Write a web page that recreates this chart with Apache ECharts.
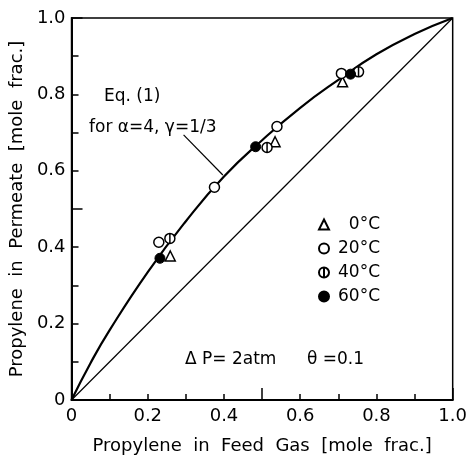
<!DOCTYPE html>
<html lang="en">
<head>
    <meta http-equiv="Content-Type" content="text/html; charset=utf-8"/>
    <title>Propylene permeate</title>
    <script type="text/javascript" src="https://cdn.jsdelivr.net/npm/echarts@6/dist/echarts.min.js"></script>
    <style>
        html, body { margin: 0; padding: 0; background: #fff; }
        #chart { width: 470px; height: 461px; }
    </style>
</head>
<body>
<div id="chart"></div>
<script type="text/javascript">
    // Eq.(1) curve
    var curveX = [0, 0.05, 0.1, 0.2, 0.3, 0.4, 0.5, 0.6, 0.7, 0.8, 0.9, 1.0];
    var curveY = [0, 0.097, 0.183, 0.335, 0.468, 0.585, 0.68, 0.765, 0.838, 0.905, 0.958, 1.0];
    // y = x reference line
    var diagX = [0, 1];
    var diagY = [0, 1];
    // leader line from the label to the curve
    var leaderX = [0.294, 0.397];
    var leaderY = [0.694, 0.589];

    // measured points
    var t0X = [0.259, 0.534, 0.711];
    var t0Y = [0.377, 0.676, 0.833];
    var t20X = [0.229, 0.375, 0.539, 0.708];
    var t20Y = [0.413, 0.557, 0.716, 0.855];
    var t40X = [0.258, 0.513, 0.753];
    var t40Y = [0.423, 0.661, 0.859];
    var t60X = [0.232, 0.483, 0.732];
    var t60Y = [0.371, 0.663, 0.853];

    var legendNames = ['0°C', '20°C', '40°C', '60°C'];

    function pairs(xs, ys) {
        var out = [];
        for (var i = 0; i < xs.length; i++) {
            out.push([xs[i], ys[i]]);
        }
        return out;
    }

    var font = 'DejaVu Sans';
    var circleBar = 'path://M50,2 A48,48 0 1,1 49.9,2 Z M50,2 L50,98';

    var myChart = echarts.init(document.getElementById('chart'));

    function tickLabel(v) {
        return v === 0 ? '0' : v.toFixed(1);
    }

    var option = {
        animation: false,
        backgroundColor: '#fff',
        grid: {
            left: 71, right: 10, top: 18, bottom: 61,
            show: true, borderColor: '#000', borderWidth: 1.5
        },
        legend: {
            orient: 'vertical',
            left: 313, top: 211,
            itemWidth: 10, itemHeight: 10, itemGap: 7,
            data: legendNames,
            formatter: function (name) {
                return '{t|' + name + '}';
            },
            textStyle: {
                fontFamily: font, fontSize: 17, color: '#000',
                rich: { t: { width: 46, align: 'right', fontFamily: font, fontSize: 17, lineHeight: 15 } }
            }
        },
        xAxis: [{
            type: 'value', min: 0, max: 1, interval: 0.2,
            name: 'Propylene  in  Feed  Gas  [mole  frac.]',
            nameLocation: 'middle', nameGap: 37,
            nameTextStyle: { fontFamily: font, fontSize: 18, color: '#000' },
            axisLine: { lineStyle: { color: '#000', width: 2 } },
            axisTick: { inside: true, length: 6, lineStyle: { color: '#000', width: 1.5 } },
            minorTick: { show: true, splitNumber: 2, length: 6, lineStyle: { color: '#000', width: 1.5 } },
            axisLabel: { formatter: tickLabel, fontFamily: font, fontSize: 18, color: '#000', margin: 7 },
            splitLine: { show: false }
        }, {
            type: 'value', min: 0, max: 1, interval: 0.5, position: 'bottom',
            axisLine: { show: false },
            axisTick: { inside: true, length: 12, lineStyle: { color: '#000', width: 1.5 } },
            axisLabel: { show: false },
            splitLine: { show: false }
        }],
        yAxis: [{
            type: 'value', min: 0, max: 1, interval: 0.2,
            name: 'Propylene  in  Permeate  [mole  frac.]',
            nameLocation: 'middle', nameGap: 37,
            nameTextStyle: { fontFamily: font, fontSize: 18, color: '#000' },
            axisLine: { lineStyle: { color: '#000', width: 2 } },
            axisTick: { inside: true, length: 7, lineStyle: { color: '#000', width: 1.5 } },
            minorTick: { show: true, splitNumber: 2, length: 7, lineStyle: { color: '#000', width: 1.5 } },
            axisLabel: { formatter: tickLabel, fontFamily: font, fontSize: 18, color: '#000', margin: 6 },
            splitLine: { show: false }
        }, {
            type: 'value', min: 0, max: 1, interval: 0.5, position: 'left',
            axisLine: { show: false },
            axisTick: { inside: true, length: 11, lineStyle: { color: '#000', width: 1.5 } },
            axisLabel: { show: false },
            splitLine: { show: false }
        }],
        graphic: [
            { type: 'text', left: 104, top: 88, style: { text: 'Eq. (1)', font: '17px ' + font, fill: '#000' } },
            { type: 'text', left: 89, top: 119, style: { text: 'for α=4, γ=1/3', font: '17px ' + font, fill: '#000' } },
            { type: 'text', left: 185, top: 351, style: { text: 'Δ P= 2atm', font: '17px ' + font, fill: '#000' } },
            { type: 'text', left: 307, top: 351, style: { text: 'θ =0.1', font: '17px ' + font, fill: '#000' } }
        ],
        series: [
            {
                name: 'diag', type: 'line', data: pairs(diagX, diagY),
                showSymbol: false, silent: true, z: 1,
                lineStyle: { color: '#000', width: 1.2 }
            },
            {
                name: 'Eq. (1)', type: 'line', data: pairs(curveX, curveY),
                smooth: 0.5, showSymbol: false, silent: true, z: 2,
                lineStyle: { color: '#000', width: 2.2 }
            },
            {
                name: 'leader', type: 'line', data: pairs(leaderX, leaderY),
                showSymbol: false, silent: true, z: 2,
                lineStyle: { color: '#000', width: 1.2 }
            },
            {
                name: legendNames[0], type: 'scatter', data: pairs(t0X, t0Y),
                symbol: 'triangle', symbolSize: 10, z: 5,
                itemStyle: { color: '#fff', borderColor: '#000', borderWidth: 1.5, opacity: 1 }
            },
            {
                name: legendNames[1], type: 'scatter', data: pairs(t20X, t20Y),
                symbol: 'circle', symbolSize: 10, z: 5,
                itemStyle: { color: '#fff', borderColor: '#000', borderWidth: 1.5, opacity: 1 }
            },
            {
                name: legendNames[2], type: 'scatter', data: pairs(t40X, t40Y),
                symbol: circleBar, symbolSize: 10, z: 5,
                itemStyle: { color: '#fff', borderColor: '#000', borderWidth: 1.5, opacity: 1 }
            },
            {
                name: legendNames[3], type: 'scatter', data: pairs(t60X, t60Y),
                symbol: 'circle', symbolSize: 10, z: 5,
                itemStyle: { color: '#000', borderColor: '#000', borderWidth: 1, opacity: 1 }
            }
        ]
    };
    myChart.setOption(option);
</script>
</body>
</html>
